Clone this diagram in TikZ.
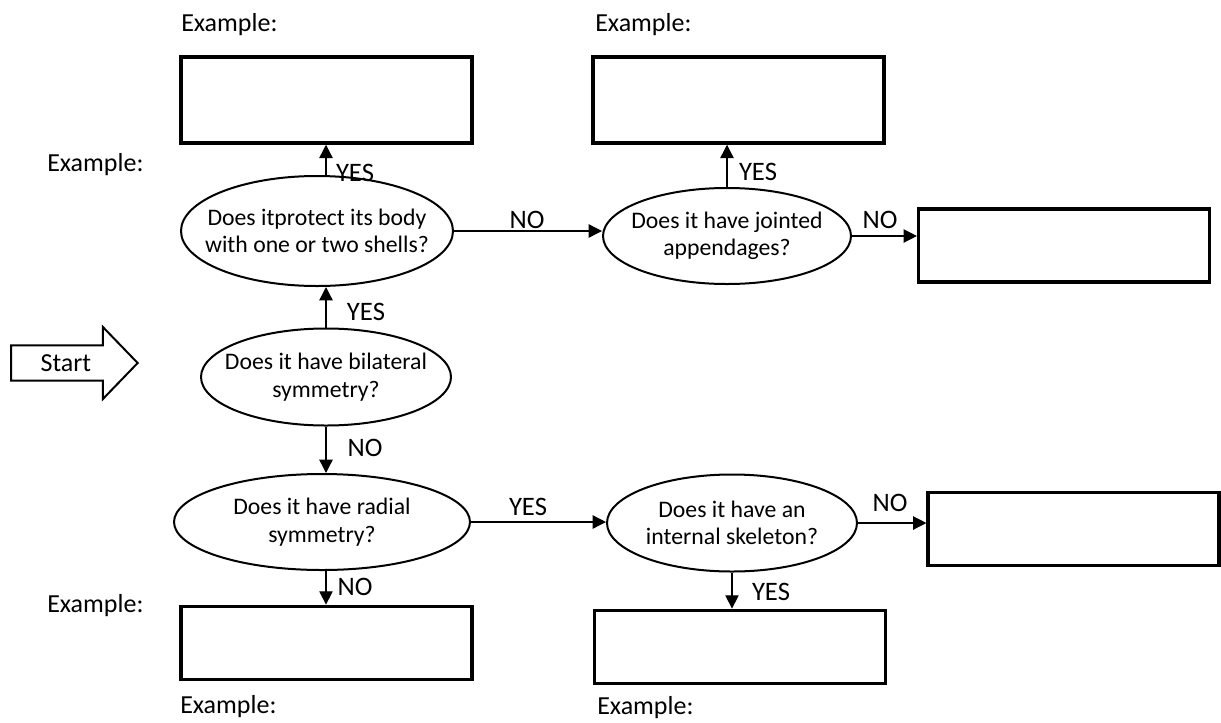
\documentclass[tikz,border=0pt]{standalone}
\usepackage{fontspec}
\setmainfont{Carlito}
\usetikzlibrary{shapes.geometric,shapes.arrows,arrows.meta}

\begin{document}
\begin{tikzpicture}[x=0.75pt,y=-0.75pt]
    % `question' is used for the yes/no ellipses.
    % `answer' is used for the empty boxes, `example' for their captions.
    % `arr' and `lbl' are the connectors and their YES/NO labels.
    \tikzstyle{question} = [draw,ellipse,line width=1.5pt,inner xsep=-25pt,inner ysep=-12pt,
      align=center,font=\fontsize{17.8}{20.5}\selectfont]
    \tikzstyle{answer} = [draw,line width=2.6pt,minimum width=218pt,minimum height=55pt,inner sep=0pt]
    \tikzstyle{example} = [anchor=west,inner sep=0pt,font=\fontsize{19.5}{22}\selectfont]
    \tikzstyle{lbl} = [inner sep=0pt,font=\fontsize{20}{22}\selectfont]
    \tikzstyle{arr} = [line width=1pt,-{Triangle[length=10pt,width=10pt]}]
    \tikzstyle{startarrow} = [draw,single arrow,line width=1.5pt,shape border rotate=0,
      single arrow tip angle=92,single arrow head extend=13.9pt,minimum height=95pt,
      text height=12pt,text depth=0pt,inner ysep=6.4pt,inner xsep=0pt,
      font=\fontsize{19.5}{22}\selectfont]
    %
    \useasboundingbox (0,0) rectangle (1221,722);
    \node[startarrow,anchor=tail] (start) at (10,363) {Start};
    %
    \node[question,minimum width=204pt,minimum height=82.5pt] (shells) at (317,231)
      {Does itprotect its body\\with one or two shells?};
    \node[question,minimum width=186pt,minimum height=72pt] (jointed) at (727,236)
      {Does it have jointed\\appendages?};
    \node[question,minimum width=187.5pt,minimum height=72.75pt] (bilat) at (326,377)
      {Does it have bilateral\\symmetry?};
    \node[question,minimum width=222pt,minimum height=72pt] (radial) at (322,522)
      {Does it have radial\\symmetry?};
    \node[question,minimum width=187.5pt,minimum height=72.75pt] (skeleton) at (732,523)
      {Does it have an\\internal skeleton?};
    %
    \node[answer,minimum height=64.5pt] (tlbox) at (326.5,100) {};
    \node[answer,minimum height=64.5pt] (tmbox) at (738.5,100) {};
    \node[answer] (trbox) at (1064,245.5) {};
    \node[answer] (rbox) at (1073.5,529) {};
    \node[answer] (blbox) at (326.5,643) {};
    \node[answer] (bmbox) at (740,647) {};
    %
    \node[example] (ex1) at (181,25) {Example:};
    \node[example] (ex2) at (595,25) {Example:};
    \node[example] (ex3) at (47,165) {Example:};
    \node[example] (ex4) at (47,606) {Example:};
    \node[example] (ex5) at (180,707) {Example:};
    \node[example] (ex6) at (597,708) {Example:};
    %
    \draw[arr] (bilat.north) -- (bilat.north |- shells.south);
    \draw[arr] (bilat.north |- shells.north) -- (bilat.north |- tlbox.south);
    \draw[arr] (shells.east) -- (shells.east -| jointed.west);
    \draw[arr] (jointed.north) -- (jointed.north |- tmbox.south);
    \draw[arr] (jointed.east) -- (jointed.east -| trbox.west);
    \draw[arr] (bilat.south) -- (bilat.south |- radial.north);
    \draw[arr] (bilat.south |- radial.south) -- (bilat.south |- blbox.north);
    \draw[arr] (radial.east) -- (radial.east -| skeleton.west);
    \draw[arr] (skeleton.east) -- (skeleton.east -| rbox.west);
    \draw[arr] (skeleton.south) -- (skeleton.south |- bmbox.north);
    %
    \node[lbl] (y1) at (355,173) {YES};
    \node[lbl] (y2) at (366,312) {YES};
    \node[lbl] (n1) at (365,448) {NO};
    \node[lbl] (n2) at (355,587) {NO};
    \node[lbl] (y3) at (528,507) {YES};
    \node[lbl] (n3) at (527,220) {NO};
    \node[lbl] (y4) at (758,172) {YES};
    \node[lbl] (n4) at (880,220) {NO};
    \node[lbl] (n5) at (890,503) {NO};
    \node[lbl] (y5) at (771,592) {YES};
\end{tikzpicture}
\end{document}
